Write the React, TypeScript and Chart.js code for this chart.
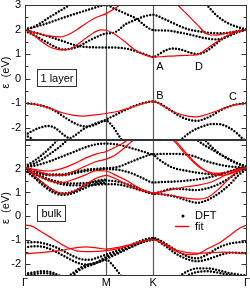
import React, { useEffect, useRef } from "react";
import { Chart, registerables } from "chart.js";
Chart.register(...registerables);

type Pt = [number, number];

// k-path: Γ - M - K - Γ
const K_POINTS = [0, 1, 1.577, 2.732];
const K_LABELS = ["Γ", "M", "K", "Γ"];
const LAYER_Y_TICKS = [-2, -1, 0, 1, 2, 3];
const BULK_Y_TICKS = [-2, -1, 0, 1, 2];
const LAYER_Y_RANGE = [-2.5, 3];
const BULK_Y_RANGE = [-2.5, 3.2];

// ---------- 1 layer : DFT bands ----------
const layerDftA: Pt[] = [[0,2.02],[0.1,2.1],[0.2,2.28],[0.3,2.5],[0.4,2.7],[0.5,2.9],[0.6,3.1]];
const layerDftB: Pt[] = [[0,2.0],[0.2,2.18],[0.4,2.4],[0.6,2.62],[0.8,2.83],[0.92,2.95],[1.0,3.0],[1.1,2.85],[1.23,2.66],[1.38,2.42],[1.48,2.15],[1.577,1.98],[1.75,1.96],[1.9,1.88],[2.05,1.78],[2.2,1.66],[2.36,1.6],[2.5,1.72],[2.62,1.9],[2.732,2.0]];
const layerDftC: Pt[] = [[0,1.98],[0.15,1.85],[0.3,1.71],[0.45,1.55],[0.6,1.38],[0.7,1.31],[0.8,1.28],[1.0,1.27],[1.15,1.26],[1.28,1.2],[1.4,1.08],[1.5,0.96],[1.577,0.88],[1.65,1.0],[1.73,1.15],[1.82,1.23],[1.92,1.18],[2.02,1.07],[2.12,1.0],[2.22,1.1],[2.32,1.33],[2.4,1.55],[2.5,1.75],[2.6,1.9],[2.732,2.0]];
const layerDftD: Pt[] = [[0,1.95],[0.15,1.7],[0.3,1.42],[0.4,1.25],[0.47,1.19],[0.55,1.21],[0.65,1.3],[0.75,1.48],[0.85,1.65],[1.0,1.84],[1.08,1.86],[1.15,1.98],[1.23,2.2],[1.38,2.42],[1.48,2.55],[1.577,2.6],[1.7,2.45],[1.85,2.22],[2.0,2.02],[2.15,1.92],[2.3,1.86],[2.45,1.85],[2.6,1.93],[2.732,2.0]];
const layerDftE: Pt[] = [[2.2,3.1],[2.25,2.95],[2.35,2.6],[2.45,2.35],[2.55,2.18],[2.65,2.07],[2.732,2.0]];
const layerDftV1: Pt[] = [[0,-1.0],[0.1,-1.03],[0.2,-1.1],[0.3,-1.2],[0.4,-1.38],[0.5,-1.6],[0.6,-1.8],[0.7,-1.93],[0.78,-1.95],[0.88,-1.85],[1.0,-1.66],[1.1,-1.5],[1.2,-1.33],[1.3,-1.18],[1.4,-1.05],[1.5,-0.96],[1.577,-0.93],[1.65,-1.0],[1.75,-1.2],[1.85,-1.42],[1.95,-1.6],[2.05,-1.7],[2.12,-1.72],[2.2,-1.65],[2.3,-1.5],[2.4,-1.3],[2.5,-1.15],[2.6,-1.05],[2.732,-1.0]];
const layerDftV2: Pt[] = [[0,-2.3],[0.08,-2.15],[0.18,-2.0],[0.3,-1.93],[0.38,-2.03],[0.48,-2.3],[0.55,-2.42],[0.62,-2.3],[0.72,-2.05],[0.85,-1.85],[1.0,-1.72],[1.08,-1.95],[1.15,-2.3],[1.22,-2.65]];
const layerDftV3: Pt[] = [[0,-2.3],[0.06,-2.4],[0.12,-2.55],[0.18,-2.7]];
const layerDftV4: Pt[] = [[1.85,-2.7],[1.94,-2.43],[2.05,-2.15],[2.18,-1.95],[2.3,-1.85],[2.4,-1.86],[2.5,-1.98],[2.6,-2.2],[2.68,-2.45],[2.732,-2.55]];

// ---------- 1 layer : fit ----------
const layerFit1: Pt[] = [[0,2.0],[0.1,1.8],[0.2,1.52],[0.3,1.3],[0.4,1.19],[0.48,1.17],[0.56,1.22],[0.65,1.4],[0.75,1.65],[0.85,1.88],[0.93,1.99],[1.0,1.97],[1.1,1.82],[1.23,1.5],[1.35,1.18],[1.45,1.0],[1.577,0.88],[1.7,0.9],[1.85,0.93],[2.0,0.95],[2.12,0.98],[2.25,1.25],[2.35,1.48],[2.46,1.7],[2.55,1.84],[2.65,1.94],[2.732,2.0]];
const layerFit2: Pt[] = [[0,2.0],[0.15,1.85],[0.3,1.74],[0.43,1.7],[0.55,1.82],[0.65,2.02],[0.75,2.25],[0.88,2.5],[1.0,2.65],[1.1,2.85],[1.2,3.08],[1.35,3.5],[1.577,3.9],[1.75,3.5],[1.88,3.0],[2.0,2.6],[2.12,2.2],[2.24,1.82],[2.35,1.77],[2.46,1.84],[2.6,1.93],[2.732,2.0]];
const layerFitV: Pt[] = [[0,-1.0],[0.15,-1.06],[0.3,-1.2],[0.45,-1.38],[0.6,-1.5],[0.72,-1.53],[0.85,-1.48],[1.0,-1.42],[1.15,-1.33],[1.3,-1.18],[1.45,-1.02],[1.577,-0.93],[1.7,-1.12],[1.85,-1.38],[2.0,-1.53],[2.1,-1.56],[2.2,-1.5],[2.35,-1.33],[2.5,-1.15],[2.62,-1.05],[2.732,-1.0]];

// ---------- bulk : DFT bands ----------
const bulkDftA: Pt[] = [[0,2.1],[0.1,2.3],[0.2,2.55],[0.3,2.85],[0.4,3.2]];
const bulkDftA2: Pt[] = [[0,2.05],[0.12,2.22],[0.25,2.48],[0.35,2.72],[0.45,2.98],[0.52,3.2]];
const bulkDftB: Pt[] = [[0,2.05],[0.15,2.15],[0.3,2.3],[0.45,2.5],[0.6,2.7],[0.75,2.9],[0.88,3.02],[1.0,3.05],[1.15,3.0],[1.3,2.87],[1.45,2.72],[1.577,2.6],[1.7,2.62],[1.85,2.62],[2.0,2.58],[2.1,2.5],[2.2,2.35],[2.35,2.2],[2.5,2.1],[2.62,2.06],[2.732,2.05]];
const bulkDftC: Pt[] = [[0,2.0],[0.15,1.85],[0.3,1.76],[0.45,1.76],[0.6,1.85],[0.75,1.95],[0.9,2.0],[1.0,2.02],[1.15,2.08],[1.3,2.28],[1.45,2.48],[1.577,2.6],[1.62,2.46],[1.72,2.22],[1.82,2.04],[1.97,1.92],[2.12,1.83],[2.25,1.78],[2.36,1.76],[2.5,1.85],[2.65,2.02],[2.732,2.05]];
const bulkDftC2: Pt[] = [[0,2.0],[0.15,1.82],[0.3,1.72],[0.45,1.72],[0.6,1.8],[0.75,1.9],[0.9,1.96],[1.0,1.98],[1.15,1.95],[1.3,1.82],[1.45,1.6],[1.577,1.42],[1.7,1.44],[1.85,1.46],[2.0,1.5],[2.12,1.55],[2.25,1.62],[2.4,1.76],[2.55,1.92],[2.732,2.05]];
const bulkDftD: Pt[] = [[0,1.95],[0.15,1.75],[0.3,1.55],[0.45,1.42],[0.6,1.38],[0.75,1.4],[0.9,1.45],[1.0,1.5],[1.15,1.45],[1.3,1.3],[1.45,1.1],[1.577,0.96],[1.7,1.06],[1.82,1.16],[1.95,1.14],[2.1,1.1],[2.25,1.18],[2.4,1.38],[2.55,1.68],[2.65,1.9],[2.732,2.0]];
const bulkDftE: Pt[] = [[0,1.95],[0.15,1.72],[0.3,1.5],[0.45,1.35],[0.6,1.3],[0.75,1.3],[0.9,1.33],[1.0,1.35],[1.15,1.33],[1.3,1.22],[1.45,1.06],[1.577,0.95],[1.7,0.92],[1.85,0.82],[2.0,0.66],[2.12,0.57],[2.22,0.65],[2.31,0.8],[2.42,1.05],[2.52,1.34],[2.62,1.7],[2.732,2.0]];
const bulkDftF: Pt[] = [[0,1.95],[0.12,1.6],[0.25,1.22],[0.35,1.0],[0.45,0.9],[0.55,0.93],[0.68,1.1],[0.8,1.28],[0.9,1.38],[1.0,1.42]];
const bulkDftF2: Pt[] = [[0,1.95],[0.12,1.65],[0.25,1.3],[0.35,1.08],[0.45,0.97],[0.55,1.0],[0.68,1.18],[0.8,1.4],[0.9,1.5],[1.0,1.55]];
const bulkDftG: Pt[] = [[2.1,3.25],[2.2,3.0],[2.3,2.8],[2.4,2.6],[2.5,2.42],[2.6,2.25],[2.732,2.08]];
const bulkDftG2: Pt[] = [[2.2,3.25],[2.3,2.9],[2.4,2.62],[2.5,2.4],[2.6,2.22],[2.732,2.08]];
const bulkDftV1: Pt[] = [[0,-1.1],[0.12,-1.08],[0.25,-1.15],[0.38,-1.3],[0.5,-1.5],[0.6,-1.68],[0.7,-1.8],[0.8,-1.82],[0.9,-1.72],[1.0,-1.6],[1.15,-1.42],[1.3,-1.2],[1.45,-1.0],[1.577,-0.9],[1.7,-1.08],[1.85,-1.4],[2.0,-1.68],[2.12,-1.76],[2.25,-1.58],[2.4,-1.28],[2.55,-1.12],[2.732,-1.06]];
const bulkDftV2: Pt[] = [[0,-1.3],[0.12,-1.25],[0.25,-1.3],[0.38,-1.48],[0.5,-1.7],[0.6,-1.88],[0.7,-2.0],[0.8,-2.02],[0.9,-1.92],[1.0,-1.78],[1.15,-1.55],[1.3,-1.3],[1.45,-1.08],[1.577,-0.95],[1.7,-1.18],[1.85,-1.55],[2.0,-1.8],[2.12,-1.88],[2.25,-1.8],[2.4,-1.62],[2.55,-1.52],[2.732,-1.55]];
const bulkDftV3: Pt[] = [[0,-2.4],[0.1,-2.35],[0.2,-2.3],[0.3,-2.32],[0.4,-2.45],[0.5,-2.6]];
const bulkDftV3b: Pt[] = [[0,-2.45],[0.1,-2.42],[0.2,-2.38],[0.3,-2.4],[0.4,-2.52],[0.48,-2.65]];
const bulkDftV4: Pt[] = [[0.5,-2.6],[0.6,-2.35],[0.7,-2.12],[0.8,-2.0],[0.9,-1.92],[1.0,-1.82],[1.08,-2.05],[1.15,-2.35],[1.22,-2.65]];
const bulkDftV4b: Pt[] = [[0.55,-2.6],[0.65,-2.3],[0.75,-2.12],[0.85,-2.0],[1.0,-1.7],[1.15,-1.5],[1.3,-1.28],[1.45,-1.08],[1.577,-0.98]];
const bulkDftV5: Pt[] = [[1.8,-2.7],[1.9,-2.5],[2.0,-2.3],[2.12,-2.18],[2.25,-2.18],[2.4,-2.28],[2.55,-2.4],[2.732,-2.48]];
const bulkDftV5b: Pt[] = [[1.88,-2.7],[1.98,-2.5],[2.1,-2.35],[2.25,-2.3],[2.4,-2.38],[2.55,-2.48],[2.65,-2.6]];

// ---------- bulk : fit ----------
const bulkFit1: Pt[] = [[0,2.05],[0.15,1.95],[0.3,1.9],[0.45,2.0],[0.6,2.2],[0.75,2.45],[0.88,2.62],[1.0,2.72],[1.1,2.88],[1.2,3.05],[1.3,3.3],[1.577,3.9],[1.75,3.4],[1.85,3.1],[1.95,2.7],[2.05,2.35],[2.15,2.05],[2.25,1.88],[2.35,1.8],[2.45,1.82],[2.55,1.9],[2.65,2.0],[2.732,2.05]];
const bulkFit2: Pt[] = [[0,2.05],[0.15,1.9],[0.3,1.75],[0.45,1.72],[0.6,1.88],[0.75,2.12],[0.88,2.3],[1.0,2.4],[1.1,2.55],[1.2,2.8],[1.3,3.1],[1.4,3.4],[1.577,3.9],[1.75,3.5],[1.87,3.1],[1.97,2.7],[2.08,2.3],[2.2,1.95],[2.3,1.78],[2.4,1.72],[2.5,1.76],[2.6,1.88],[2.732,2.05]];
const bulkFit3: Pt[] = [[0,2.05],[0.15,1.75],[0.3,1.5],[0.45,1.42],[0.6,1.55],[0.75,1.75],[0.88,1.92],[1.0,1.9],[1.1,1.75],[1.25,1.5],[1.4,1.2],[1.577,0.98],[1.7,1.05],[1.85,1.15],[2.0,1.25],[2.15,1.32],[2.3,1.45],[2.45,1.7],[2.6,1.92],[2.732,2.05]];
const bulkFit4: Pt[] = [[0,2.05],[0.15,1.6],[0.3,1.2],[0.42,0.98],[0.5,0.95],[0.6,1.05],[0.75,1.35],[0.88,1.6],[1.0,1.72],[1.1,1.6],[1.25,1.35],[1.4,1.12],[1.577,0.98],[1.7,0.92],[1.85,0.85],[2.0,0.75],[2.12,0.72],[2.25,0.8],[2.4,1.2],[2.55,1.7],[2.65,1.95],[2.732,2.05]];
const bulkFitV1: Pt[] = [[0,-0.36],[0.1,-0.43],[0.18,-0.6],[0.3,-0.85],[0.43,-1.13],[0.55,-1.35],[0.65,-1.46],[0.8,-1.48],[1.0,-1.44],[1.15,-1.35],[1.3,-1.2],[1.45,-1.05],[1.577,-0.98],[1.7,-1.15],[1.85,-1.45],[2.0,-1.6],[2.12,-1.58],[2.25,-1.35],[2.4,-1.1],[2.55,-0.72],[2.65,-0.48],[2.732,-0.36]];
const bulkFitV2: Pt[] = [[0,-1.57],[0.2,-1.52],[0.4,-1.45],[0.6,-1.33],[0.75,-1.28],[0.9,-1.33],[1.0,-1.37],[1.15,-1.3],[1.3,-1.18],[1.45,-1.04],[1.577,-0.98],[1.7,-1.12],[1.85,-1.4],[2.0,-1.52],[2.15,-1.55],[2.3,-1.52],[2.45,-1.5],[2.6,-1.53],[2.732,-1.57]];

const LAYER_DFT = [layerDftA, layerDftB, layerDftC, layerDftD, layerDftE, layerDftV1, layerDftV2, layerDftV3, layerDftV4];
const LAYER_FIT = [layerFit1, layerFit2, layerFitV];
const BULK_DFT = [bulkDftA, bulkDftA2, bulkDftB, bulkDftC, bulkDftC2, bulkDftD, bulkDftE, bulkDftF, bulkDftF2, bulkDftG, bulkDftG2, bulkDftV1, bulkDftV2, bulkDftV3, bulkDftV3b, bulkDftV4, bulkDftV4b, bulkDftV5, bulkDftV5b];
const BULK_FIT = [bulkFit1, bulkFit2, bulkFit3, bulkFit4, bulkFitV1, bulkFitV2];

const FONT = '"Liberation Sans", Arial, Helvetica, sans-serif';
const RED = "#ff0000";
const FRAME = "#333";

const toXY = (b: Pt[]) => b.map(([x, y]) => ({ x, y }));

const dftDataset = (b: Pt[]) => ({
  data: toXY(b),
  borderColor: "#000",
  borderWidth: 2.4,
  borderDash: [0, 3.2],
  borderCapStyle: "round",
  pointRadius: 0,
  fill: false,
  cubicInterpolationMode: "monotone",
});
const fitDataset = (b: Pt[]) => ({
  data: toXY(b),
  borderColor: RED,
  borderWidth: 1.2,
  pointRadius: 0,
  fill: false,
  cubicInterpolationMode: "monotone",
});

type Deco = (ctx: CanvasRenderingContext2D, chart: any) => void;

function makePlugin(deco: Deco) {
  return {
    id: "deco",
    beforeDatasetsDraw(chart: any) {
      const { ctx, chartArea: a, scales } = chart;
      ctx.save();
      ctx.strokeStyle = "#555";
      ctx.lineWidth = 1.2;
      [K_POINTS[1], K_POINTS[2]].forEach((k) => {
        const px = Math.round(scales.x.getPixelForValue(k)) + 0.5;
        ctx.beginPath();
        ctx.moveTo(px, a.top);
        ctx.lineTo(px, a.bottom);
        ctx.stroke();
      });
      ctx.restore();
    },
    afterDraw(chart: any) {
      const { ctx, chartArea: a, scales } = chart;
      const y = scales.y;
      ctx.save();
      ctx.strokeStyle = FRAME;
      ctx.lineWidth = 1;
      const L = Math.round(a.left) + 0.5, R = Math.round(a.right) - 0.5;
      const T = Math.round(a.top) + 0.5, B = Math.round(a.bottom) - 0.5;
      ctx.strokeRect(L, T, R - L, B - T);
      // inward ticks every 0.5 eV
      ctx.beginPath();
      for (let v = Math.ceil(y.min * 2) / 2; v <= y.max + 1e-9; v += 0.5) {
        const py = Math.round(y.getPixelForValue(v)) + 0.5;
        if (py <= T + 1 || py >= B - 1) continue;
        const len = Number.isInteger(v) ? 5 : 3;
        ctx.moveTo(L, py); ctx.lineTo(L + len, py);
        ctx.moveTo(R, py); ctx.lineTo(R - len, py);
      }
      ctx.stroke();
      // y title
      ctx.fillStyle = "#000";
      ctx.font = `11px ${FONT}`;
      ctx.textAlign = "center";
      ctx.textBaseline = "middle";
      ctx.save();
      ctx.translate(6, (a.top + a.bottom) / 2);
      ctx.rotate(-Math.PI / 2);
      ctx.fillText("ε  (eV)", 0, 0);
      ctx.restore();
      deco(ctx, chart);
      ctx.restore();
    },
  };
}

const layerDeco: Deco = (ctx) => {
  ctx.strokeStyle = FRAME;
  ctx.lineWidth = 1;
  ctx.strokeRect(37.5, 69.5, 39, 17);
  ctx.fillStyle = "#000";
  ctx.font = `11px ${FONT}`;
  ctx.textAlign = "center";
  ctx.textBaseline = "middle";
  ctx.fillText("1 layer", 57, 78.5);
  ctx.fillText("A", 160, 67);
  ctx.fillText("D", 199, 67);
  ctx.fillText("B", 160, 96);
  ctx.fillText("C", 233, 97);
};

const bulkDeco: Deco = (ctx, chart) => {
  ctx.strokeStyle = FRAME;
  ctx.lineWidth = 1;
  ctx.strokeRect(37.5, 69.5, 28, 16);
  ctx.fillStyle = "#000";
  ctx.font = `11px ${FONT}`;
  ctx.textAlign = "center";
  ctx.textBaseline = "middle";
  ctx.fillText("bulk", 51.5, 77.5);
  // legend
  ctx.beginPath();
  ctx.arc(183, 80, 1.5, 0, Math.PI * 2);
  ctx.fill();
  ctx.strokeStyle = RED;
  ctx.lineWidth = 1.4;
  ctx.beginPath();
  ctx.moveTo(175, 90.5);
  ctx.lineTo(189, 90.5);
  ctx.stroke();
  ctx.textAlign = "left";
  ctx.fillText("DFT", 195, 80);
  ctx.fillText("fit", 195, 90.5);
  // k labels
  ctx.textAlign = "center";
  const x = chart.scales.x;
  K_POINTS.forEach((k, i) => {
    ctx.fillText(K_LABELS[i], x.getPixelForValue(k), 147);
  });
};

function Panel(props: {
  top: number; height: number; padTop: number; padBottom: number;
  range: number[]; ticks: number[]; dft: Pt[][]; fit: Pt[][]; deco: Deco;
}) {
  const ref = useRef<HTMLCanvasElement>(null);
  useEffect(() => {
    const { range, ticks, dft, fit, deco, padTop, padBottom } = props;
    const chart = new Chart(ref.current as HTMLCanvasElement, {
      type: "line",
      data: { datasets: [...fit.map(fitDataset), ...dft.map(dftDataset)] as any },
      options: {
        responsive: false,
        animation: false,
        events: [],
        layout: { padding: { top: padTop, bottom: padBottom, left: 0, right: 3 } },
        plugins: { legend: { display: false }, tooltip: { enabled: false } },
        scales: {
          x: { type: "linear", min: 0, max: K_POINTS[3], display: false },
          y: {
            type: "linear",
            min: range[0],
            max: range[1],
            afterBuildTicks: (s: any) => { s.ticks = ticks.map((v) => ({ value: v })); },
            afterFit: (s: any) => { s.width = 25; s.paddingTop = 0; s.paddingBottom = 0; },
            grid: { display: false, drawTicks: false },
            border: { display: false },
            ticks: {
              color: "#000",
              padding: 4,
              font: { family: FONT, size: 11 },
              callback: (v: any) => String(v),
            },
          },
        },
      } as any,
      plugins: [makePlugin(deco)],
    });
    return () => chart.destroy();
  }, []);
  return (
    <canvas
      ref={ref}
      width={250}
      height={props.height}
      style={{ position: "absolute", left: 0, top: props.top, display: "block" }}
    />
  );
}

export default function App() {
  useEffect(() => {
    document.body.style.margin = "0";
  }, []);
  return (
    <div style={{ position: "relative", width: 250, height: 288, background: "#fff" }}>
      <Panel top={0} height={141} padTop={5} padBottom={1} range={LAYER_Y_RANGE} ticks={LAYER_Y_TICKS}
        dft={LAYER_DFT} fit={LAYER_FIT} deco={layerDeco} />
      <Panel top={136} height={152} padTop={4} padBottom={12} range={BULK_Y_RANGE} ticks={BULK_Y_TICKS}
        dft={BULK_DFT} fit={BULK_FIT} deco={bulkDeco} />
    </div>
  );
}
